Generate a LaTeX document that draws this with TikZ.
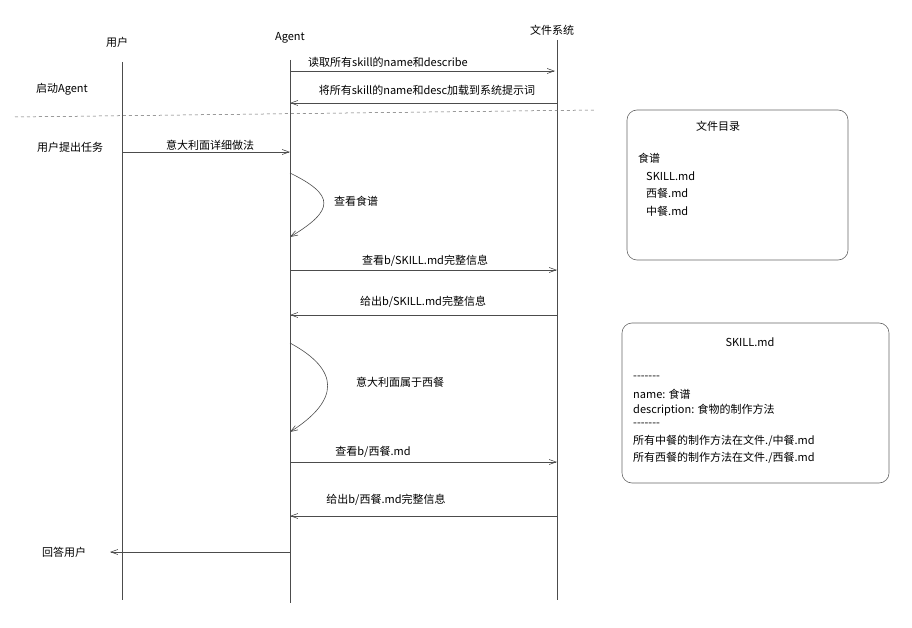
\documentclass[tikz,border=0pt]{standalone}
\usepackage{fontspec}
\setmainfont{Noto Sans CJK SC}
\usetikzlibrary{arrows.meta}
\begin{document}
\begin{tikzpicture}[x=1pt,y=-1pt,font=\fontsize{11}{13}\selectfont,
  life/.style={draw=black!70,line width=0.6pt},
  msg/.style={draw=black!70,line width=0.6pt,-{Straight Barb[length=7pt,width=5pt]}},
  lbl/.style={inner sep=1pt},
  box/.style={draw=black!60,rounded corners=10pt,line width=0.6pt}]
\useasboundingbox (0,0) rectangle (912,628);
\node[lbl] (hu) at (117,42) {用户};
\node[lbl] (ha) at (290,38) {Agent};
\node[lbl] (hf) at (552,30) {文件系统};
\coordinate (u0) at (122,62); \coordinate (u1) at (122,600);
\coordinate (a0) at (290,60); \coordinate (a1) at (290,603);
\coordinate (f0) at (557,40); \coordinate (f1) at (557,600);
\draw[life] (u0)--(u1); \draw[life] (a0)--(a1); \draw[life] (f0)--(f1);
\coordinate (d0) at (15,117); \coordinate (d1) at (595,110);
\draw[black!60,dashed,line width=0.5pt] (d0)--(d1);
\node[lbl] (s1) at (62,89) {启动Agent};
\node[lbl] (s2) at (70,147) {用户提出任务};
\node[lbl] (s3) at (64,552) {回答用户};
\coordinate (m1a) at (290,71); \coordinate (m1b) at (555,71);
\draw[msg] (m1a)--(m1b);
\node[lbl] (l1) at (388,62) {读取所有skill的name和describe};
\coordinate (m2a) at (557,103); \coordinate (m2b) at (290,103);
\draw[msg] (m2a)--(m2b);
\node[lbl] (l2) at (427,90) {将所有skill的name和desc加载到系统提示词};
\coordinate (m3a) at (122,152); \coordinate (m3b) at (290,152);
\draw[msg] (m3a)--(m3b);
\node[lbl] (l3) at (210,145) {意大利面详细做法};
\coordinate (c1a) at (290,173); \coordinate (c1b) at (290,237);
\draw[msg] (c1a) .. controls (335,195) and (335,210) .. (c1b);
\node[lbl] (l4) at (356,201) {查看食谱};
\coordinate (m4a) at (290,270); \coordinate (m4b) at (557,270);
\draw[msg] (m4a)--(m4b);
\node[lbl] (l5) at (425,261) {查看b/SKILL.md完整信息};
\coordinate (m5a) at (557,315); \coordinate (m5b) at (290,315);
\draw[msg] (m5a)--(m5b);
\node[lbl] (l6) at (423,302) {给出b/SKILL.md完整信息};
\coordinate (c2a) at (290,343); \coordinate (c2b) at (290,432);
\draw[msg] (c2a) .. controls (340,370) and (340,400) .. (c2b);
\node[lbl] (l7) at (400,382) {意大利面属于西餐};
\coordinate (m6a) at (290,462); \coordinate (m6b) at (557,462);
\draw[msg] (m6a)--(m6b);
\node[lbl] (l8) at (373,452) {查看b/西餐.md};
\coordinate (m7a) at (557,516); \coordinate (m7b) at (290,516);
\draw[msg] (m7a)--(m7b);
\node[lbl] (l9) at (386,500) {给出b/西餐.md完整信息};
\coordinate (m8a) at (290,552); \coordinate (m8b) at (110,552);
\draw[msg] (m8a)--(m8b);
\node[box,minimum width=221pt,minimum height=150pt] (b1) at (737.5,185) {};
\node[lbl] (b1t) at (718,126) {文件目录};
\node[lbl,anchor=west] (b1a) at (637,158) {食谱};
\node[lbl,anchor=west] (b1b) at (645,176) {SKILL.md};
\node[lbl,anchor=west] (b1c) at (645,193) {西餐.md};
\node[lbl,anchor=west] (b1d) at (645,211) {中餐.md};
\node[box,minimum width=267pt,minimum height=160pt] (b2) at (755.5,403) {};
\node[lbl] (b2t) at (750,342) {SKILL.md};
\node[lbl,anchor=west] (b2a) at (632,378) {-{}-{}-{}-{}-{}-{}-};
\node[lbl,anchor=west] (b2b) at (632,394) {name: 食谱};
\node[lbl,anchor=west] (b2c) at (632,410) {description: 食物的制作方法};
\node[lbl,anchor=west] (b2d) at (632,425) {-{}-{}-{}-{}-{}-{}-};
\node[lbl,anchor=west] (b2e) at (632,441) {所有中餐的制作方法在文件./中餐.md};
\node[lbl,anchor=west] (b2f) at (632,458) {所有西餐的制作方法在文件./西餐.md};
\end{tikzpicture}
\end{document}
